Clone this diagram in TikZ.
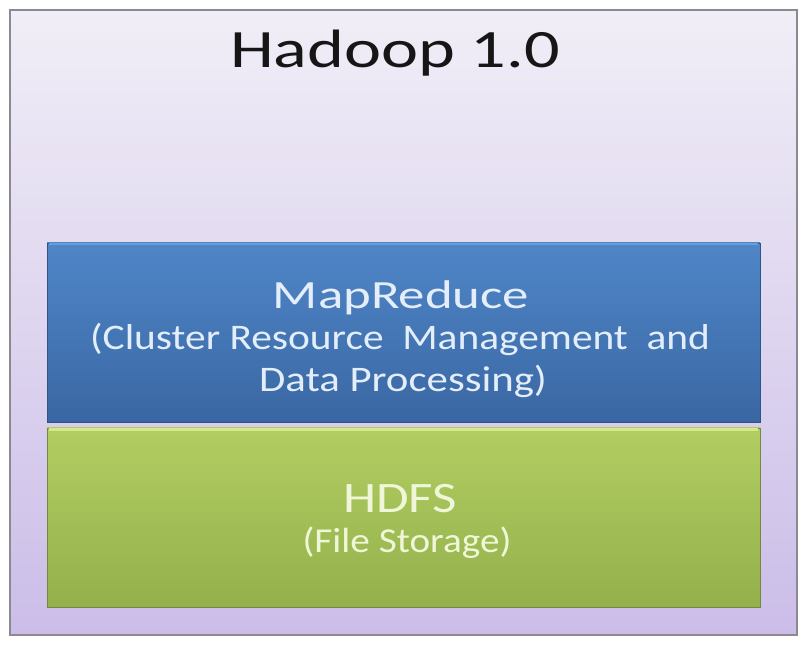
\documentclass[tikz,border=0pt]{standalone}
\usepackage{fontspec}
\setmainfont{Carlito}
\usepackage{graphicx}
\definecolor{frameline}{HTML}{8C8A90}
\definecolor{bgtop}{HTML}{F1EEF7}
\definecolor{bgbot}{HTML}{CBBDE8}
\definecolor{bluetop}{HTML}{4F86C8}
\definecolor{bluebot}{HTML}{3A67A3}
\definecolor{blueedge}{HTML}{2F5582}
\definecolor{greentop}{HTML}{B2CE62}
\definecolor{greenbot}{HTML}{93B04C}
\definecolor{greenedge}{HTML}{738A3A}
\definecolor{greenhi}{HTML}{D4E88E}
\definecolor{bluehi}{HTML}{6A9CD8}
\definecolor{btext}{HTML}{E4EEFA}
\definecolor{gtext}{HTML}{F0F7D8}
\definecolor{ttext}{HTML}{161616}
\tikzset{
  frame/.style={draw=frameline, line width=1.6pt, top color=bgtop, bottom color=bgbot, inner sep=0pt, minimum width=787pt, minimum height=625pt},
  layerblue/.style={draw=blueedge, line width=0.8pt, top color=bluetop, bottom color=bluebot, inner sep=0pt, minimum width=713pt, minimum height=179pt},
  layergreen/.style={draw=greenedge, line width=0.8pt, top color=greentop, bottom color=greenbot, inner sep=0pt, minimum width=713pt, minimum height=179pt},
  lbl/.style={anchor=base, inner sep=0pt},
}
\newcommand{\sz}[3]{\fontsize{#1}{#1}\selectfont\scalebox{#2}[1]{#3}}
\begin{document}
\begin{tikzpicture}[x=1pt,y=1pt]
\useasboundingbox (0,0) rectangle (810,652);
\node[frame] (outer) at (403.5,329.5) {};
\node[layerblue] (mr) at (403.5,319.5) {};
\node[layergreen] (hdfs) at (403.5,134.5) {};
\draw[bluehi, line width=1.5pt] ([xshift=2pt,yshift=-1.2pt]mr.north west) -- ([xshift=-2pt,yshift=-1.2pt]mr.north east);
\draw[greenhi, line width=3pt] ([xshift=2pt,yshift=-2pt]hdfs.north west) -- ([xshift=-2pt,yshift=-2pt]hdfs.north east);
\node[lbl, text=ttext] (title) at (395,584) {\sz{54}{1.30}{Hadoop 1.0}};
\node[lbl, text=btext] (mr1) at (401,343) {\sz{40}{1.32}{MapReduce}};
\node[lbl, text=btext] (mr2) at (400,302) {\sz{36}{1.15}{(Cluster Resource\ \ Management\ \ and}};
\node[lbl, text=btext] (mr3) at (403,260) {\sz{36}{1.19}{Data Processing)}};
\node[lbl, text=gtext] (hd1) at (400,139) {\sz{43.5}{1.22}{HDFS}};
\node[lbl, text=gtext] (hd2) at (407,99) {\sz{35}{1.12}{(File Storage)}};
\end{tikzpicture}
\end{document}
